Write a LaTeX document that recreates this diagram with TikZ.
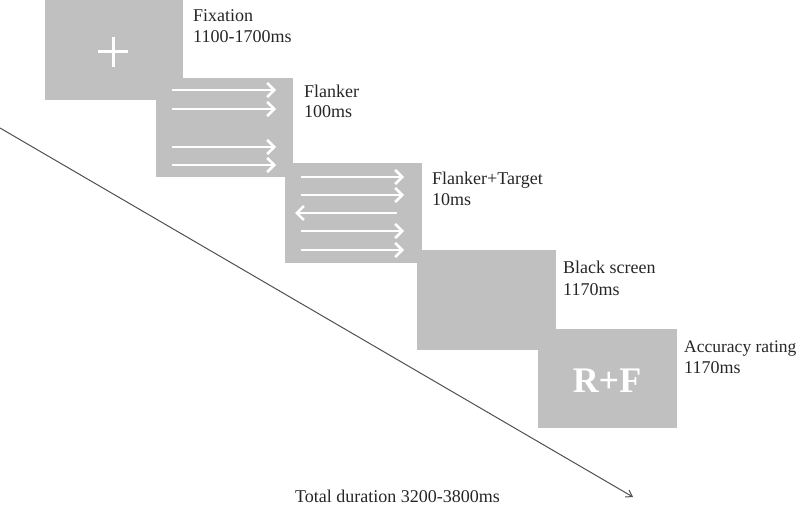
\documentclass[tikz,border=0pt]{standalone}
\usepackage{fontspec}
\setmainfont{Liberation Serif}
\usetikzlibrary{arrows.meta}
\definecolor{scr}{RGB}{192,192,192}
\definecolor{tl}{RGB}{80,80,80}
\tikzset{
  screen/.style={fill=scr, draw=none, anchor=north west, inner sep=0pt},
  lab/.style={anchor=base west, inner sep=0pt, font=\fontsize{18}{21}\selectfont, text=black!85},
  warrow/.style={white, line width=2.6pt, -{Straight Barb[length=7pt,width=14pt,line width=2.6pt]}},
}
\begin{document}
\begin{tikzpicture}[x=1pt,y=-1pt]
\useasboundingbox (0,0) rectangle (800,505);
% screens
\node[screen, minimum width=138pt, minimum height=100pt] (s1) at (45,0) {};
\node[screen, minimum width=137pt, minimum height=99pt] (s2) at (156,78) {};
\node[screen, minimum width=137pt, minimum height=100pt] (s3) at (285,163) {};
\node[screen, minimum width=139pt, minimum height=100pt] (s4) at (417,250) {};
\node[screen, minimum width=139pt, minimum height=99pt] (s5) at (538,329) {};
% fixation cross
\draw[white, line width=3pt] (98,52) -- (128,52) (113,37) -- (113,67);
% flanker arrows
\foreach \y in {90,109,147,165} \draw[warrow] (172,\y) -- (276,\y);
% flanker + target arrows
\foreach \y in {177,195,231,250} \draw[warrow] (301,\y) -- (404,\y);
\draw[warrow] (397,213) -- (295,213);
% R+F
\node[inner sep=0pt, text=white, font=\fontsize{36}{36}\selectfont\bfseries] (rf) at (607,381) {R+F};
% labels
\node[lab] (l1a) at (193,22) {Fixation};
\node[lab] (l1b) at (193,43) {1100-1700ms};
\node[lab] (l2a) at (304,98) {Flanker};
\node[lab] (l2b) at (304,118) {100ms};
\node[lab] (l3a) at (432,185) {Flanker+Target};
\node[lab] (l3b) at (432,206) {10ms};
\node[lab] (l4a) at (563,273) {Black screen};
\node[lab] (l4b) at (563,295) {1170ms};
\node[lab, font=\fontsize{17.5}{21}\selectfont] (l5a) at (684,352) {Accuracy rating};
\node[lab] (l5b) at (684,373) {1170ms};
\node[lab] (tot) at (295,502) {Total duration 3200-3800ms};
% time line
\coordinate (t0) at (0,128);
\coordinate (t1) at (633,497);
\draw[tl, line width=1pt, -{Straight Barb[length=6pt,width=8pt]}] (t0) -- (t1);
\end{tikzpicture}
\end{document}
